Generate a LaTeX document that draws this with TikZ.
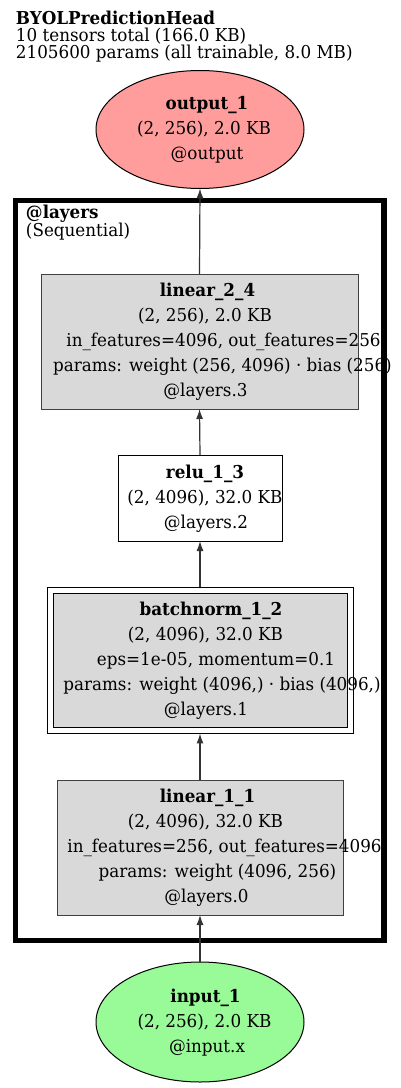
\documentclass[tikz,border=0pt]{standalone}
\usepackage{fontspec}
\setmainfont{DejaVu Serif}[FakeStretch=0.945]
\usetikzlibrary{arrows.meta,shapes.geometric}
\newdimen\pxu \pxu=0.75pt
\newcommand\nl[2]{\makebox[0pt]{\hspace*{#1\pxu}#2\hspace*{-#1\pxu}}\rule[-5.5pt]{0pt}{18.5pt}}
\definecolor{redfill}{HTML}{FF9C9C}
\definecolor{greenfill}{HTML}{98FB98}
\definecolor{boxgray}{HTML}{D9D9D9}
\definecolor{boxline}{HTML}{404040}
\definecolor{edgecol}{HTML}{333333}
\begin{document}
\begin{tikzpicture}[x=0.75pt,y=-0.75pt,
  every node/.style={font=\fontsize{13.3pt}{18.75pt}\selectfont, align=center, inner sep=0pt, outer sep=0pt},
  opbox/.style={rectangle, draw=boxline, line width=0.75pt, fill=boxgray},
  plainbox/.style={rectangle, draw=black, line width=0.75pt, fill=white},
  dblbox/.style={rectangle, draw=black, line width=0.75pt, fill=boxgray, double=white, double distance=3.75pt},
  ioell/.style={ellipse, draw=black, line width=0.75pt},
  edge/.style={draw=edgecol, line width=0.9pt, -{Latex[length=7.5pt,width=5.25pt]}},
  cluster/.style={draw=black, line width=4.2pt}
]
\useasboundingbox (0,0) rectangle (400,1088);
\fill[white] (0,0) rectangle (400,1088);

% header
\node[anchor=north west, align=left, font=\fontsize{13.3pt}{13.1pt}\selectfont] (hdr) at (16,6.7)
  {\rule{0pt}{13pt}\textbf{BYOLPredictionHead}\\10 tensors total (166.0 KB)\\2105600 params (all trainable, 8.0 MB)};

% cluster
\draw[cluster] (15.5,200.5) rectangle (384,940.5);
\node[anchor=north west, align=left, font=\fontsize{13.3pt}{13.5pt}\selectfont] (clab) at (26,200.7)
  {\rule{0pt}{13pt}\textbf{@layers}\\(Sequential)};

% nodes
\node[ioell, fill=redfill, minimum width=208*\pxu, minimum height=118*\pxu] (out) at (200,129.5)
  {\nl{7}{\textbf{output\_1}}\\\nl{4}{(2, 256), 2.0 KB}\\\nl{7}{@output}};

\node[opbox, minimum width=317*\pxu, minimum height=135*\pxu] (l24) at (199.5,341.5)
  {\nl{8}{\textbf{linear\_2\_4}}\\\nl{5.5}{(2, 256), 2.0 KB}\\\nl{24}{in\_features=4096, out\_features=256}\\\nl{23}{params: weight (256, 4096) · bias (256)}\\\nl{6}{@layers.3}};

\node[plainbox, minimum width=164*\pxu, minimum height=86*\pxu] (relu) at (200,498)
  {\nl{5}{\textbf{relu\_1\_3}}\\\nl{5}{(2, 4096), 32.0 KB}\\\nl{6}{@layers.2}};

\node[dblbox, minimum width=300*\pxu, minimum height=140*\pxu] (bn) at (200,660)
  {\nl{11}{\textbf{batchnorm\_1\_2}}\\\nl{5.5}{(2, 4096), 32.0 KB}\\\nl{16}{eps=1e-05, momentum=0.1}\\\nl{22}{params: weight (4096,) · bias (4096,)}\\\nl{6}{@layers.1}};

\node[opbox, minimum width=286*\pxu, minimum height=135*\pxu] (l11) at (200,847.5)
  {\nl{7.5}{\textbf{linear\_1\_1}}\\\nl{5.5}{(2, 4096), 32.0 KB}\\\nl{24.5}{in\_features=256, out\_features=4096}\\\nl{17.5}{params: weight (4096, 256)}\\\nl{6.5}{@layers.0}};

\node[ioell, fill=greenfill, minimum width=208*\pxu, minimum height=120*\pxu] (in) at (200,1022)
  {\nl{5.5}{\textbf{input\_1}}\\\nl{4.5}{(2, 256), 2.0 KB}\\\nl{7}{@input.x}};

% edges
\draw[edge] (in.north) -- (l11.south);
\draw[edge] (l11.north) -- ([yshift=-2.6pt]bn.south);
\draw[edge] ([yshift=2.6pt]bn.north) -- (relu.south);
\draw[edge] (relu.north) -- (l24.south);
\draw[edge] (l24.north) -- (out.south);
\end{tikzpicture}
\end{document}
